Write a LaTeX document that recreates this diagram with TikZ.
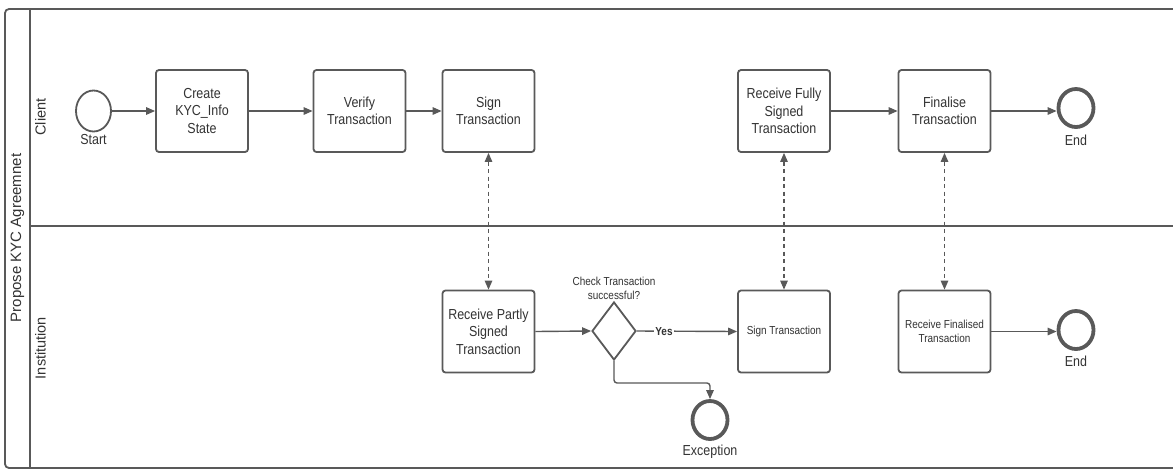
\documentclass[tikz,border=0pt]{standalone}
\usepackage{fontspec}
\setmainfont{Liberation Sans}[FakeStretch=0.86]
\newfontfamily\lanefont{Liberation Sans}
\usetikzlibrary{arrows.meta,shapes.geometric}
\definecolor{stroke}{HTML}{595959}
\definecolor{ink}{HTML}{333333}
\tikzset{
  task/.style={draw=stroke, line width=1.8pt, rounded corners=3pt, fill=white,
    minimum width=92pt, minimum height=82pt, inner sep=2pt, align=center,
    text=ink, font=\fontsize{14.5}{17.5}\selectfont},
  smalltask/.style={task, font=\fontsize{11.6}{14.5}\selectfont},
  startev/.style={draw=stroke, line width=1.8pt, ellipse, minimum width=35pt,
    minimum height=41pt, inner sep=0pt},
  endev/.style={draw=stroke, line width=3.8pt, ellipse, minimum width=35pt,
    minimum height=38pt, inner sep=0pt},
  gateway/.style={draw=stroke, line width=1.8pt, diamond, minimum width=44pt,
    minimum height=58pt, inner sep=0pt, fill=white},
  evlabel/.style={text=ink, font=\fontsize{14.5}{17}\selectfont, inner sep=0pt},
  smalllabel/.style={text=ink, font=\fontsize{11.6}{14}\selectfont, align=center, inner sep=0pt},
  lanelabel/.style={text=ink, rotate=90, inner sep=0pt, font=\lanefont\fontsize{14.5}{17}\selectfont},
  flow/.style={draw=stroke, line width=1.4pt, -{Triangle[length=9pt,width=7.5pt]}},
  msg/.style={draw=stroke, line width=1.2pt, dash pattern=on 4pt off 3.5pt,
    {Triangle[length=9pt,width=7.5pt]}-{Triangle[length=9pt,width=7.5pt]}},
  frame/.style={draw=stroke, line width=1.8pt}
}
\begin{document}
\begin{tikzpicture}[x=1pt,y=-1pt]
\useasboundingbox (0,0) rectangle (1173,475);
\fill[white] (0,0) rectangle (1173,475);

% pool and lanes
\draw[frame, rounded corners=4pt] (1173,9) -- (5,9) -- (5,468) -- (1173,468);
\draw[frame] (30,9) -- (30,468);
\draw[frame] (30,226) -- (1173,226);
\node[lanelabel, font=\lanefont\fontsize{15}{17}\selectfont] (pool) at (17.5,238) {Propose KYC Agreemnet};
\node[lanelabel] (clientlane) at (40.5,117) {Client};
\node[lanelabel] (instlane) at (40.5,348) {Institution};

% client lane
\node[startev] (start) at (93.5,111) {};
\node[evlabel] (startlbl) at (93.5,140) {Start};
\node[task] (create) at (202,111) {Create\\KYC\_Info\\State};
\node[task] (verify) at (359.5,111) {Verify\\Transaction};
\node[task] (sign) at (488.5,111) {Sign\\Transaction};
\node[task] (recvfull) at (784,111) {Receive Fully\\Signed\\Transaction};
\node[task] (finalise) at (944.5,111) {Finalise\\Transaction};
\node[endev] (endc) at (1076,108) {};
\node[evlabel] (endclbl) at (1076,140) {End};

% institution lane
\node[task] (recvpart) at (488.5,331.5) {Receive Partly\\Signed\\Transaction};
\node[gateway] (gate) at (614,331) {};
\node[smalllabel] (gatelbl) at (614,288) {Check Transaction\\successful?};
\node[smalltask] (signinst) at (784,331.5) {Sign Transaction};
\node[smalltask] (recvfin) at (944.5,331.5) {Receive Finalised\\Transaction};
\node[endev] (endi) at (1076,330) {};
\node[evlabel] (endilbl) at (1076,361) {End};
\node[endev] (exc) at (710,420) {};
\node[evlabel] (exclbl) at (710,452) {Exception};
\coordinate (excbend) at (614,383);

% sequence flows
\draw[flow] (start) -- (create);
\draw[flow] (create) -- (verify);
\draw[flow] (verify) -- (sign);
\draw[flow] (recvfull) -- (finalise);
\draw[flow] (finalise.east) -- (endc.west |- finalise.east);
\draw[flow] (recvpart.east) -- (gate.west);
\draw[flow] (gate.east) -- node[pos=0.27, fill=white, inner sep=1pt, text=ink,
  font=\bfseries\fontsize{11.6}{14}\selectfont] (yes) {Yes} (signinst.west);
\draw[flow] (recvfin.east) -- (endi.west |- recvfin.east);
\draw[flow, rounded corners=3pt] (gate.south) -- (excbend) -- (exc.north |- excbend) -- (exc.north);

% message flows
\draw[msg] (sign.south) -- (recvpart.north);
\draw[msg] (recvfull.south) -- (signinst.north);
\draw[msg] (finalise.south) -- (recvfin.north);
\end{tikzpicture}
\end{document}
